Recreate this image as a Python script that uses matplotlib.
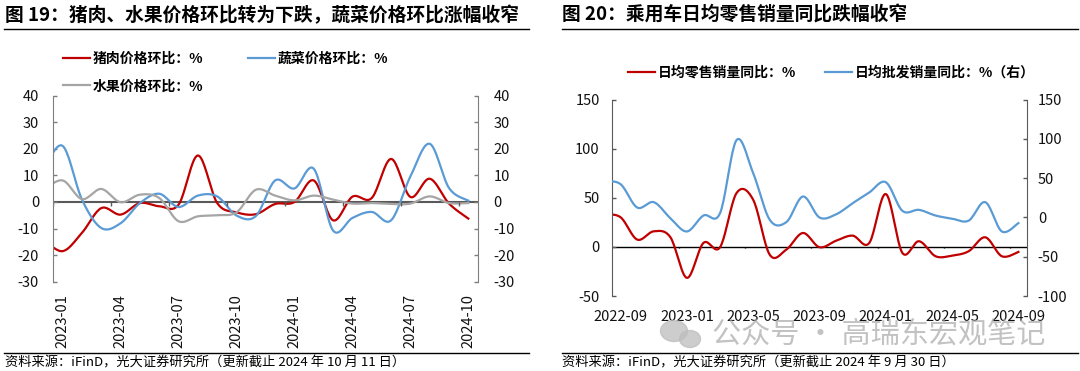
import numpy as np
import pandas as pd
import matplotlib
matplotlib.use("Agg")
import matplotlib.pyplot as plt
from matplotlib.lines import Line2D
from matplotlib.patches import Ellipse

plt.rcParams['font.family'] = ['Noto Sans CJK SC', 'DejaVu Sans']
plt.rcParams['axes.unicode_minus'] = False

# ---- data: left panel (monthly, first value is 2022-12, only partly visible) ----
months_l = pd.period_range("2022-12", "2024-10", freq="M").strftime("%Y-%m").tolist()
pork = [-14, -18.5, -11.6, -2.3, -4.75, -0.4, -1.6, -1.0, 17.5, -0.4, -3.9, -4.6,
        -0.75, 0.0, 8.1, -6.9, 2.0, 1.5, 16.2, 1.9, 8.75, -0.6, -6.25]
veg = [12, 21.1, 0.9, -9.8, -8.0, -0.4, 3.1, -1.9, 2.4, 2.1, -5.1, -5.3,
       8.1, 5.1, 12.5, -10.75, -6.0, -3.75, -6.9, 9.6, 21.9, 5.25, 0.5]
fruit = [4.5, 8.1, 1.1, 4.9, -0.1, 2.75, 1.5, -7.25, -5.4, -5.0, -3.9, 4.6,
         2.4, 0.6, 2.4, 0.9, -0.6, -0.4, -0.75, -0.6, 2.1, -0.4, -0.4]

# ---- data: right panel (monthly, first value is 2022-08, only partly visible) ----
months_r = pd.period_range("2022-08", "2024-09", freq="M").strftime("%Y-%m").tolist()
retail = [33, 30.2, 7.5, 15.9, 10.0, -31.5, 4.1, -0.3, 55, 48, -8, -2.7, 14.2,
          -0.3, 6.3, 11.5, 4, 53.9, -6.1, 5.8, -9.5, -8.8, -4.4, 9.8, -9.5, -5.1]
wholesale = [46, 42.4, 12.7, 19.5, -0.8, -17.8, 2.5, 5.5, 98.7, 56.4, -3, -5.9, 26.7,
             0, 4, 18.2, 31.8, 44.9, 8.5, 9.7, 2.5, -1.5, -4, 19.5, -17.8, -7.2]

RED, BLUE, GREY = "#C00000", "#5B9BD5", "#A5A5A5"


def smooth(y, n=20):
    # Excel-like smoothed line (Catmull-Rom), x = month index starting at -1
    y = np.asarray(y, float)
    x = np.arange(len(y)) - 1.0
    yp = np.concatenate([[y[0]], y, [y[-1]]])
    xp = np.concatenate([[x[0]], x, [x[-1]]])
    xs, ys = [], []
    t = np.linspace(0, 1, n, endpoint=False)
    for i in range(1, len(yp) - 2):
        for arr, out in ((xp, xs), (yp, ys)):
            p0, p1, p2, p3 = arr[i - 1], arr[i], arr[i + 1], arr[i + 2]
            c1 = p1 + (p2 - p0) / 6
            c2 = p2 - (p3 - p1) / 6
            out.extend((1 - t) ** 3 * p1 + 3 * (1 - t) ** 2 * t * c1
                       + 3 * (1 - t) * t ** 2 * c2 + t ** 3 * p2)
    xs.append(x[-1])
    ys.append(y[-1])
    return np.array(xs), np.array(ys)


fig = plt.figure(figsize=(10.8, 3.71), dpi=100)
W, H = 1080, 371

# ================= left panel =================
ax1 = fig.add_axes([53 / W, 1 - 281.7 / H, (478 - 53) / W, (281.7 - 95.7) / H])
ax1r = ax1.twinx()
l_pork, = ax1.plot(*smooth(pork), color=RED, lw=1.6, label="猪肉价格环比：%")
l_veg, = ax1.plot(*smooth(veg), color=BLUE, lw=1.6, label="蔬菜价格环比：%")
l_fruit, = ax1.plot(*smooth(fruit), color=GREY, lw=1.6, label="水果价格环比：%")
n_l = len(months_l) - 1
ax1.set_xlim(-0.5, n_l - 0.5)
for a in (ax1, ax1r):
    a.set_ylim(-30, 40)
    a.set_yticks(np.arange(-30, 41, 10))
    for s in a.spines.values():
        s.set_visible(False)
    a.tick_params(axis="y", direction="in", length=3, width=1, color="#7f7f7f",
                  labelsize=10.5, labelcolor="#111111")
ax1.spines["left"].set_visible(True)
ax1.spines["left"].set_color("#7f7f7f")
ax1r.spines["right"].set_visible(True)
ax1r.spines["right"].set_color("#7f7f7f")
ax1.tick_params(axis="y", pad=10)
ax1r.tick_params(axis="y", pad=11)
ax1.axhline(0, color="#595959", lw=1.5, zorder=1)
ax1.vlines(np.arange(-0.5, n_l, 3), 0, -1.5, color="#595959", lw=1)
ax1.set_xticks(np.arange(0, n_l, 3))
ax1.set_xticklabels(months_l[1::3], rotation=90)
ax1.tick_params(axis="x", length=0, pad=9, labelsize=10.5, labelcolor="#111111")
fig.legend(handles=[l_pork, l_fruit, l_veg], ncol=2, loc="upper left",
           bbox_to_anchor=(63 / W, 1 - 52 / H), bbox_transform=fig.transFigure,
           frameon=False, borderpad=0, borderaxespad=0, handlelength=1.95,
           handletextpad=0.2, columnspacing=3.2, labelspacing=0.95,
           prop={"size": 10, "weight": "bold"})

# ================= right panel =================
ax2 = fig.add_axes([612.3 / W, 1 - 296 / H, 414.4 / W, 196.3 / H])
ax2r = ax2.twinx()
l_ret, = ax2.plot(*smooth(retail), color=RED, lw=1.6, label="日均零售销量同比：%")
l_whl, = ax2r.plot(*smooth(wholesale), color=BLUE, lw=1.6, label="日均批发销量同比：%（右）")
n_r = len(months_r) - 1
ax2.set_xlim(-0.5, n_r - 0.5)
ax2.set_ylim(-50, 150)
ax2.set_yticks(np.arange(-50, 151, 50))
ax2r.set_ylim(-100, 150)
ax2r.set_yticks(np.arange(-100, 151, 50))
for a in (ax2, ax2r):
    for s in a.spines.values():
        s.set_visible(False)
    a.tick_params(axis="y", direction="in", length=3, width=1, color="#595959",
                  labelsize=10.5, labelcolor="#111111")
ax2.spines["left"].set_visible(True)
ax2.spines["left"].set_color("#595959")
ax2r.spines["right"].set_visible(True)
ax2r.spines["right"].set_color("#595959")
ax2.tick_params(axis="y", pad=9)
ax2r.tick_params(axis="y", pad=8)
ax2.axhline(0, color="black", lw=1, zorder=1)
ax2.vlines(np.arange(3.5, n_r, 4), 0, -1.4, color="black", lw=1)
ax2.set_xticks(np.arange(0, n_r, 4))
ax2.set_xticklabels(months_r[1::4])
ax2.tick_params(axis="x", length=0, pad=10, labelsize=10.5, labelcolor="#111111")
fig.legend(handles=[l_ret, l_whl], ncol=2, loc="upper left",
           bbox_to_anchor=(628 / W, 1 - 65.5 / H), bbox_transform=fig.transFigure,
           frameon=False, borderpad=0, borderaxespad=0, handlelength=1.95,
           handletextpad=0.2, columnspacing=2.1,
           prop={"size": 10, "weight": "bold"})

# ================= titles, rules, sources =================
fig.text(5 / W, 1 - 15.5 / H, "图 19：猪肉、水果价格环比转为下跌，蔬菜价格环比涨幅收窄",
         fontsize=13.5, weight="bold", va="center", ha="left")
fig.text(562 / W, 1 - 15.5 / H, "图 20：乘用车日均零售销量同比跌幅收窄",
         fontsize=13.5, weight="bold", va="center", ha="left")
for x0, x1 in ((3.5, 529), (561.5, 1078)):
    fig.add_artist(Line2D([x0 / W, x1 / W], [1 - 29.4 / H] * 2, transform=fig.transFigure,
                          color="black", lw=1))
    fig.add_artist(Line2D([x0 / W, x1 / W], [1 - 353 / H] * 2, transform=fig.transFigure,
                          color="black", lw=1))
fig.text(5 / W, 1 - 363 / H, "资料来源：iFinD，光大证券研究所（更新截止 2024 年 10 月 11 日）",
         fontsize=9.5, va="center", ha="left")
fig.text(562 / W, 1 - 363 / H, "资料来源：iFinD，光大证券研究所（更新截止 2024 年 9 月 30 日）",
         fontsize=9.5, va="center", ha="left")

# watermark
fig.add_artist(Ellipse((674 / W, 1 - 331 / H), 27 / W, 21 / H, transform=fig.transFigure,
                       color="#bdbdbd", alpha=0.75))
fig.add_artist(Ellipse((690 / W, 1 - 339 / H), 21 / W, 17 / H, transform=fig.transFigure,
                       color="#bdbdbd", alpha=0.75))
fig.text(712 / W, 1 - 334 / H, "公众号 · 高瑞东宏观笔记", fontsize=21, color="#a8a8a8",
         alpha=0.7, va="center", ha="left")

fig.savefig("out.png", dpi=100)
